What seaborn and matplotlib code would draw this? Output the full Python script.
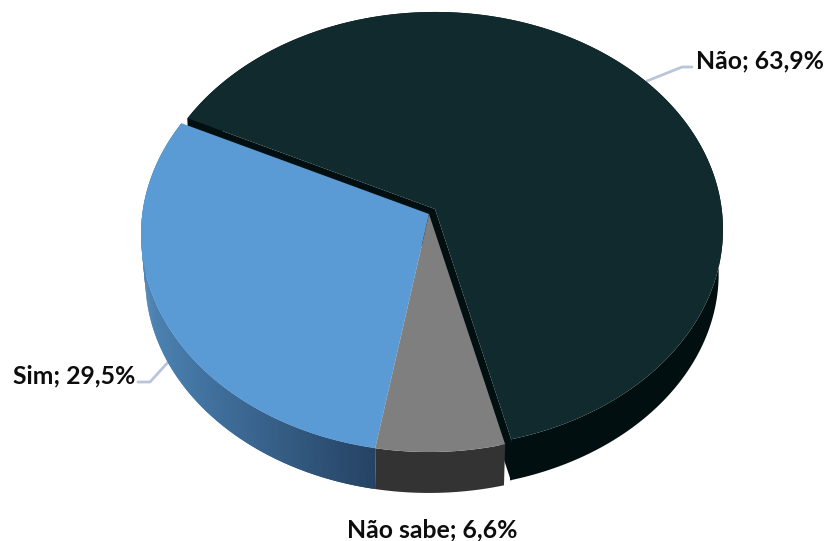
import numpy as np
import matplotlib
matplotlib.use("Agg")
import matplotlib.pyplot as plt
import seaborn as sns

# valores da pizza, na ordem horaria a partir do corte superior esquerdo
categories = ["Não", "Não sabe", "Sim"]
values = [63.9, 6.6, 29.5]
labels = ["Não; 63,9%", "Não sabe; 6,6%", "Sim; 29,5%"]

top_colors = ["#112a2e", "#7f7f7f", "#5b9bd5"]
wall_from = ["#020f10", "#333333", "#254263"]
wall_to = ["#020f10", "#333333", "#4c83b4"]

START = 154.0
CX, CY = 429, 214
OFFSETS = [(6, -5), (0, 0), (0, 0)]  # fatia "Não" destacada
DEPTH = 44.5
RX, RY, PERSP = 286.7, 215.6, 0.0942
LINE = "#b9c5d8"

sns.set_theme(style="white")
plt.rcParams["font.family"] = ["Lato", "DejaVu Sans"]


def project(angles, off=(0, 0), depth=0, shrink=1.0):
    # disco visto em perspectiva
    a = np.radians(angles)
    u, v = np.cos(a), np.sin(a)
    w = 1 + PERSP * v
    return (CX + off[0] + shrink * RX * u / w,
            CY + off[1] + depth - shrink * RY * v / w)


fig = plt.figure(figsize=(8.26, 5.41), dpi=100)
ax = fig.add_axes([0, 0, 1, 1])
ax.set_xlim(0, 826)
ax.set_ylim(541, 0)
ax.axis("off")

# linhas de chamada
ax.plot([647, 682, 692], [81, 67, 67], color=LINE, lw=2, zorder=1)
ax.plot([138, 150, 170], [382, 382, 360], color=LINE, lw=2, zorder=1)

edges = START - np.cumsum([0] + values) * 3.6
order = [0, 2, 1]
z = 2
for i in order:
    a0, a1 = edges[i], edges[i + 1]
    off = OFFSETS[i]
    steps = max(int(abs(a0 - a1)), 2)
    grid = np.linspace(a0, a1, steps * 2 + 1)

    # laterais do corte da fatia destacada
    if off != (0, 0):
        for ang in (a0, a1):
            ex, ey = project(np.array([ang]), off)
            ox, oy = CX + off[0], CY + off[1]
            ax.fill([ox, ex[0], ex[0], ox], [oy, ey[0], ey[0] + 42, oy + 42],
                    color=wall_from[i], lw=0, zorder=z)

    # parede externa: cor unica ou degrade conforme a posicao horizontal
    xt, yt = project(grid, off)
    xb, yb = project(grid, off, DEPTH, 0.985)
    if wall_from[i] == wall_to[i]:
        ax.fill(np.r_[xt, xb[::-1]], np.r_[yt, yb[::-1]], color=wall_from[i], lw=0, zorder=z)
    else:
        span = xt.max() - xt.min()
        pal = sns.blend_palette([wall_to[i], wall_from[i]], 64)
        for k in range(len(grid) - 1):
            # cada trecho cobre tambem o seguinte, assim nao aparecem emendas
            m = min(k + 2, len(grid) - 1)
            t = (0.5 * (xt[k] + xt[k + 1]) - xt.min()) / span
            ax.fill([xt[k], xt[m], xb[m], xb[k]], [yt[k], yt[m], yb[m], yb[k]],
                    color=pal[int(t * 63)], lw=0, zorder=z)

    # face superior
    ax.fill(np.r_[CX + off[0], xt], np.r_[CY + off[1], yt],
            color=top_colors[i], lw=0, zorder=z + 1)
    z += 2

text_kw = dict(fontsize=17.8, fontweight="bold", color="#0d0d0d", va="baseline", zorder=20)
ax.text(696, 68, labels[0], ha="left", **text_kw)
ax.text(347, 537, labels[1], ha="left", **text_kw)
ax.text(13, 383, labels[2], ha="left", **text_kw)

fig.savefig("out.png", dpi=100)
